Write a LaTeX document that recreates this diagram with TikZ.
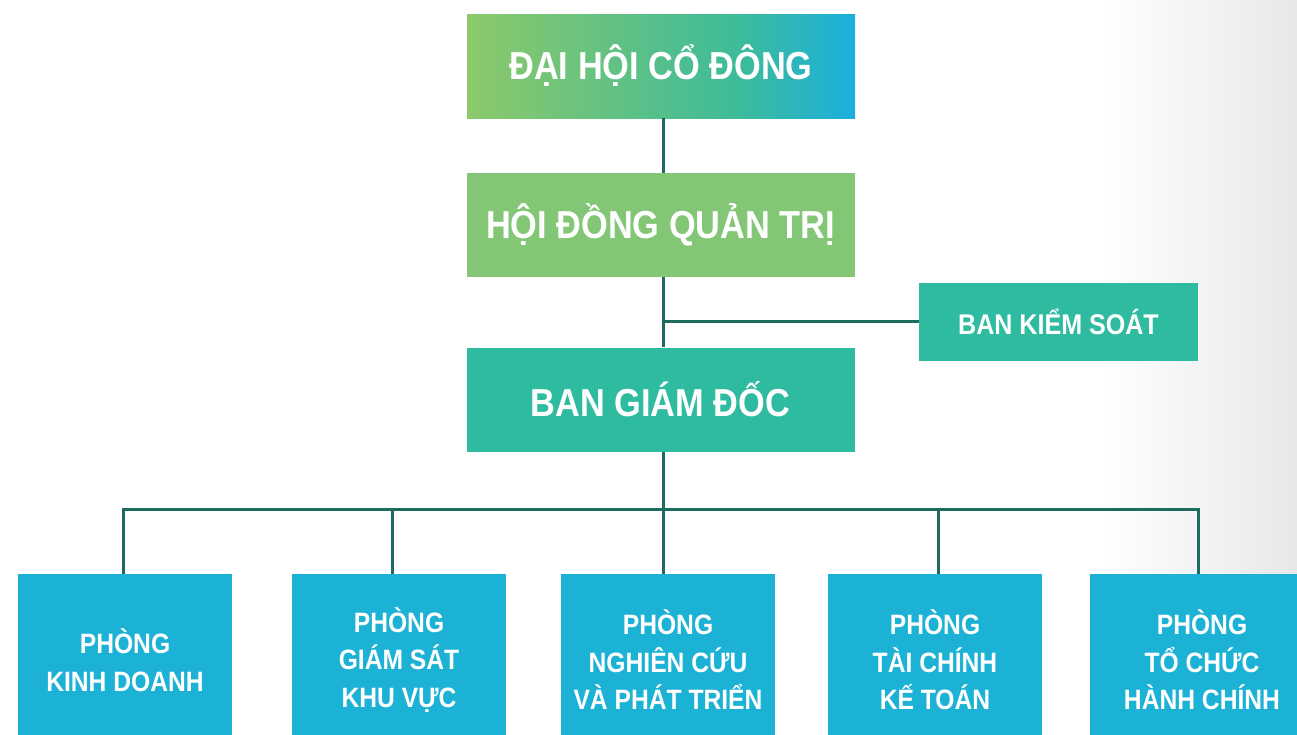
\documentclass[tikz,border=0pt]{standalone}
\usepackage{fontspec}
\setmainfont[FakeStretch=0.88]{Liberation Sans}
\definecolor{linkc}{HTML}{1C6B5E}
\definecolor{greenc}{HTML}{83C676}
\definecolor{tealc}{HTML}{2EBBA0}
\definecolor{bluec}{HTML}{1CB2D6}
\definecolor{topA}{HTML}{8CC96A}
\definecolor{topB}{HTML}{3DBB9A}
\definecolor{topC}{HTML}{1AB0DE}
\definecolor{bgGray}{HTML}{E8E8E8}
\pgfdeclarehorizontalshading{dhcdgrad}{100bp}{color(0bp)=(topA); color(25bp)=(topA); color(60bp)=(topB); color(75bp)=(topC); color(100bp)=(topC)}
\begin{document}
\begin{tikzpicture}[x=1pt,y=-1pt,
    box/.style={inner sep=0pt, text=white, align=center},
    bigbox/.style={box, minimum width=388pt, minimum height=104pt, font=\fontsize{39}{45}\selectfont\bfseries},
    deptbox/.style={box, fill=bluec, minimum width=214pt, minimum height=172pt, font=\fontsize{28}{37.5}\selectfont\bfseries},
    link/.style={draw=linkc, line width=3pt}]
        \useasboundingbox (0,0) rectangle (1297,734);
        \clip (0,0) rectangle (1297,734);
        \fill [white] (0,0) rectangle (1297,734);
        \shade [left color=white, right color=bgGray] (1100,0) rectangle (1297,734);
        \node [bigbox, shading=dhcdgrad] (dhcd) at (661,66) {ĐẠI HỘI CỔ ĐÔNG};
        \node [bigbox, fill=greenc] (hdqt) at (660.5,225) {HỘI ĐỒNG QUẢN TRỊ};
        \node [bigbox, fill=tealc] (bgd) at (660.5,399.5) {BAN GIÁM ĐỐC};
        \node [box, fill=tealc, minimum width=279pt, minimum height=78pt,
            font=\fontsize{28.5}{34}\selectfont\bfseries] (bks) at (1058.5,321.5) {BAN KIỂM SOÁT};
        \node [deptbox] (p1) at (125,660) {PHÒNG\\KINH DOANH};
        \node [deptbox] (p2) at (399,660) {PHÒNG\\GIÁM SÁT\\KHU VỰC};
        \node [deptbox] (p3) at (668,660) {PHÒNG\\NGHIÊN CỨU\\VÀ PHÁT TRIỂN};
        \node [deptbox] (p4) at (935,660) {PHÒNG\\TÀI CHÍNH\\KẾ TOÁN};
        \node [deptbox, minimum width=224pt] (p5) at (1202,660) {PHÒNG\\TỔ CHỨC\\HÀNH CHÍNH};
        \foreach \i/\x in {1/123,2/392,3/663,4/938,5/1198}{
            \coordinate (bus\i) at (\x,509);
        }
        \draw [link] (dhcd.south -| bus3) -- (hdqt.north -| bus3);
        \draw [link] (hdqt.south -| bus3) -- (bgd.north -| bus3);
        \draw [link] (bks.west) -- (bks.west -| bus3);
        \draw [link] (bgd.south -| bus3) -- (bus3);
        \draw [link] (bus1 |- p1.north) -- (bus1) -- (bus5) -- (bus5 |- p5.north);
        \foreach \i in {2,3,4}{
            \draw [link] (bus\i) -- (bus\i |- p\i.north);
        }
\end{tikzpicture}
\end{document}
